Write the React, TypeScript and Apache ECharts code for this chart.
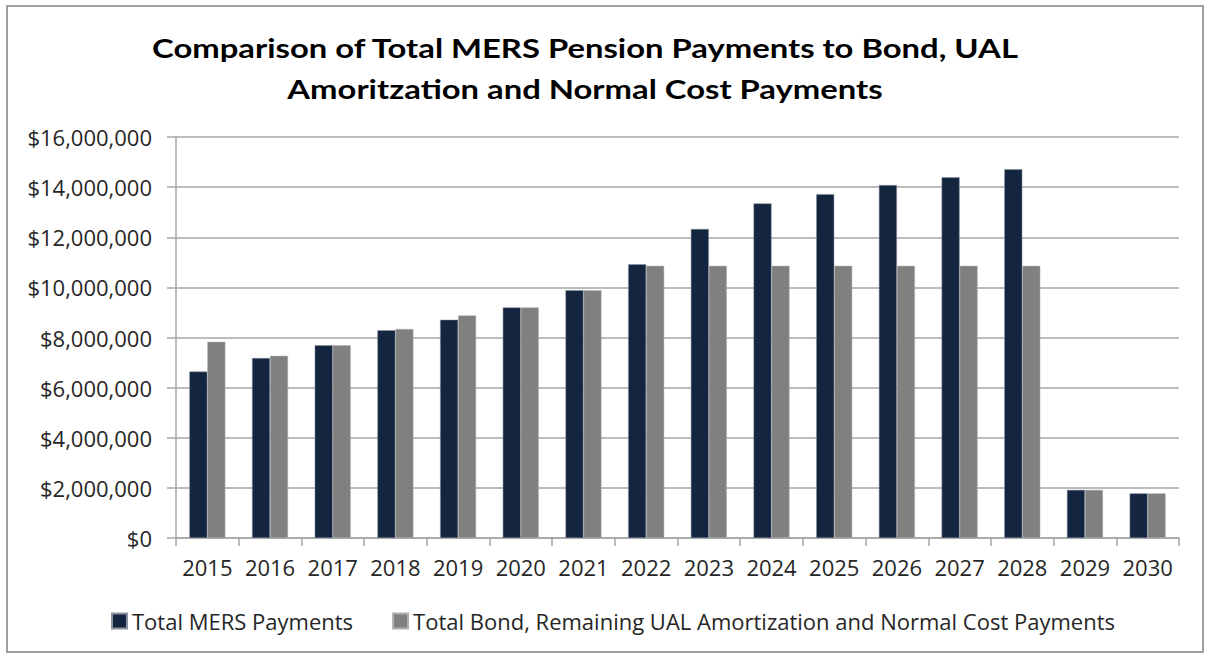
import React, { useEffect, useRef } from "react";
import * as echarts from "echarts";

const years = ["2015","2016","2017","2018","2019","2020","2021","2022","2023","2024","2025","2026","2027","2028","2029","2030"];
const mersPayments = [6640000,7180000,7690000,8290000,8710000,9200000,9890000,10920000,12330000,13350000,13720000,14080000,14390000,14710000,1920000,1780000];
const bondPayments = [7830000,7270000,7690000,8340000,8880000,9200000,9890000,10860000,10860000,10860000,10860000,10860000,10860000,10860000,1920000,1780000];
const titleLines = ["Comparison of Total MERS Pension Payments to Bond, UAL", "Amoritzation and Normal Cost Payments"];
const seriesNames = ["Total MERS Payments", "Total Bond, Remaining UAL Amortization and Normal Cost Payments"];

const TITLE_FONT = "Lato";
const FONT = "Open Sans";

export default function App() {
  const ref = useRef<HTMLDivElement>(null);
  useEffect(() => {
    if (!ref.current) return;
    const chart = echarts.init(ref.current, null, { renderer: "svg" });
    chart.setOption({
      animation: false,
      backgroundColor: "#ffffff",
      textStyle: { fontFamily: FONT },
      graphic: [
        { type: "rect", shape: { x: 7, y: 6, width: 1196, height: 646 }, style: { fill: "none", stroke: "#a0a0a0", lineWidth: 2 }, silent: true },
        { type: "text", x: 585, y: 47, scaleX: 1.215, style: { text: titleLines[0], font: `bold 27px ${TITLE_FONT}`, fill: "#000", textAlign: "center", textVerticalAlign: "middle" } },
        { type: "text", x: 585, y: 88, scaleX: 1.215, style: { text: titleLines[1], font: `bold 27px ${TITLE_FONT}`, fill: "#000", textAlign: "center", textVerticalAlign: "middle" } },
      ],
      grid: { left: 176, right: 27, top: 137, bottom: 116, containLabel: false },
      legend: {
        left: 106, top: 605, itemWidth: 15, itemHeight: 15, itemGap: 39,
        icon: "rect",
        textStyle: { fontFamily: FONT, fontSize: 22, color: "#262626" },
        data: seriesNames,
      },
      xAxis: {
        type: "category",
        data: years,
        axisLine: { lineStyle: { color: "#a6a6a6", width: 1.5 } },
        axisTick: { show: true, length: 8, lineStyle: { color: "#a6a6a6", width: 1.5 } },
        axisLabel: { interval: 0, fontFamily: FONT, fontSize: 22, color: "#262626", margin: 18 },
      },
      yAxis: {
        type: "value",
        min: 0, max: 16000000, interval: 2000000,
        axisLine: { show: true, lineStyle: { color: "#a6a6a6", width: 1.5 } },
        axisTick: { show: true, length: 9, lineStyle: { color: "#a6a6a6", width: 1.5 } },
        splitLine: { lineStyle: { color: "#a6a6a6", width: 1.5 } },
        axisLabel: {
          fontFamily: FONT, fontSize: 22, color: "#262626", margin: 24,
          formatter: (v: number) => "$" + v.toLocaleString("en-US"),
        },
      },
      series: [
        { name: seriesNames[0], type: "bar", data: mersPayments, barWidth: 18, barGap: "0%", itemStyle: { color: "#13253f", borderColor: "#8a93a0", borderWidth: 0.5 } },
        { name: seriesNames[1], type: "bar", data: bondPayments, barWidth: 18, itemStyle: { color: "#808080", borderColor: "#b0b0b0", borderWidth: 0.5 } },
      ],
    });
    return () => chart.dispose();
  }, []);
  return <div ref={ref} style={{ position: "absolute", left: 0, top: 0, width: 1206, height: 654 }} />;
}
